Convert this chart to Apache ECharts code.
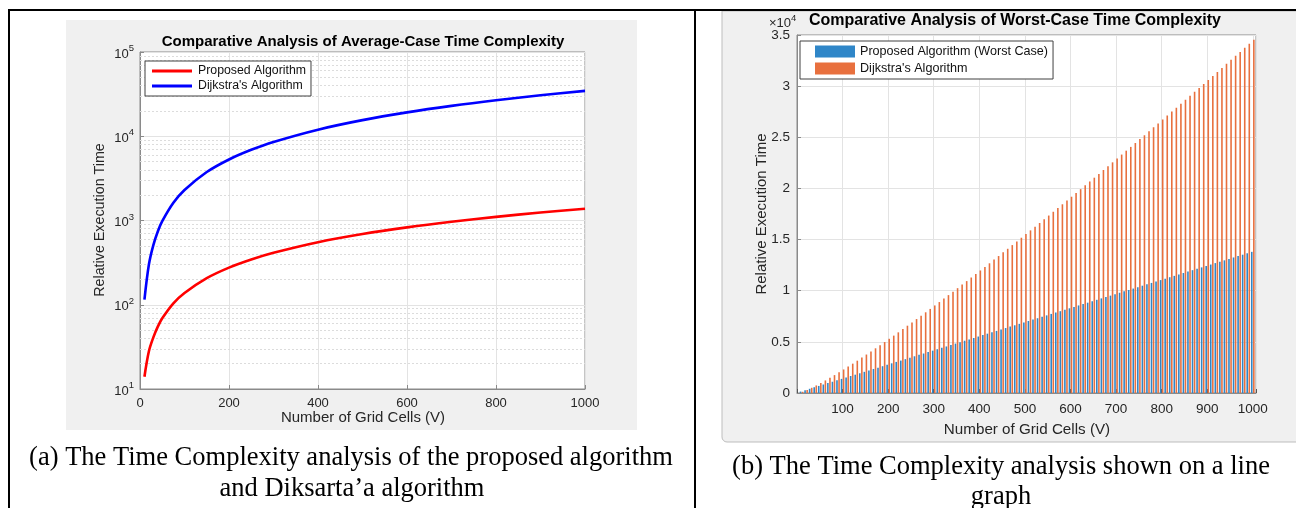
<!DOCTYPE html>
<html>
<head>
<meta charset="utf-8">
<script src="https://cdn.jsdelivr.net/npm/echarts@6/dist/echarts.min.js"></script>
<style>
  html, body { margin: 0; padding: 0; background: #ffffff; }
  #chart { width: 1296px; height: 508px; }
</style>
</head>
<body>
<div id="chart"></div>
<script>
// ---------- Panel (a): average-case curves, log scale ----------
const avgCells    = [10, 20, 30, 40, 50, 75, 100, 150, 200, 250, 300, 400, 500, 600, 700, 800, 900, 1000];
const avgProposed = [14, 28, 41, 55, 69, 104, 138, 207, 276, 345, 414, 553, 691, 829, 967, 1105, 1243, 1380];
const avgDijkstra = [115, 300, 510, 740, 980, 1620, 2300, 3760, 5300, 6900, 8560, 11980, 15540, 19190, 22930, 26740, 30610, 34540];
const logMinorLines = [20, 30, 40, 50, 60, 70, 80, 90,
                       200, 300, 400, 500, 600, 700, 800, 900,
                       2000, 3000, 4000, 5000, 6000, 7000, 8000, 9000,
                       20000, 30000, 40000, 50000, 60000, 70000, 80000, 90000];

// ---------- Panel (b): worst-case grouped bars ----------
const worstCells = [
  10, 20, 30, 40, 50, 60, 70, 80, 90, 100,
  110, 120, 130, 140, 150, 160, 170, 180, 190, 200,
  210, 220, 230, 240, 250, 260, 270, 280, 290, 300,
  310, 320, 330, 340, 350, 360, 370, 380, 390, 400,
  410, 420, 430, 440, 450, 460, 470, 480, 490, 500,
  510, 520, 530, 540, 550, 560, 570, 580, 590, 600,
  610, 620, 630, 640, 650, 660, 670, 680, 690, 700,
  710, 720, 730, 740, 750, 760, 770, 780, 790, 800,
  810, 820, 830, 840, 850, 860, 870, 880, 890, 900,
  910, 920, 930, 940, 950, 960, 970, 980, 990, 1000
];
const worstProposed = [
  140, 280, 410, 550, 690, 830, 970, 1100, 1240, 1380,
  1520, 1660, 1790, 1930, 2070, 2210, 2350, 2480, 2620, 2760,
  2900, 3040, 3170, 3310, 3450, 3590, 3730, 3860, 4000, 4140,
  4280, 4420, 4550, 4690, 4830, 4970, 5110, 5240, 5380, 5520,
  5660, 5800, 5930, 6070, 6210, 6350, 6490, 6620, 6760, 6900,
  7040, 7180, 7310, 7450, 7590, 7730, 7870, 8000, 8140, 8280,
  8420, 8560, 8690, 8830, 8970, 9110, 9250, 9380, 9520, 9660,
  9800, 9940, 10070, 10210, 10350, 10490, 10630, 10760, 10900, 11040,
  11180, 11320, 11450, 11590, 11730, 11870, 12010, 12140, 12280, 12420,
  12560, 12700, 12830, 12970, 13110, 13250, 13390, 13520, 13660, 13800
];
const worstDijkstra = [
  120, 300, 510, 740, 980, 1230, 1490, 1750, 2020, 2300,
  2590, 2870, 3160, 3460, 3760, 4060, 4370, 4670, 4980, 5300,
  5610, 5930, 6250, 6580, 6900, 7230, 7560, 7890, 8220, 8560,
  8890, 9230, 9570, 9910, 10250, 10600, 10940, 11290, 11630, 11980,
  12330, 12680, 13040, 13390, 13750, 14100, 14460, 14820, 15180, 15540,
  15900, 16260, 16620, 16990, 17350, 17720, 18090, 18450, 18820, 19190,
  19560, 19930, 20300, 20680, 21050, 21420, 21800, 22180, 22550, 22930,
  23310, 23690, 24060, 24440, 24830, 25210, 25590, 25970, 26350, 26740,
  27120, 27510, 27890, 28280, 28670, 29050, 29440, 29830, 30220, 30610,
  31000, 31390, 31780, 32180, 32570, 32960, 33350, 33750, 34140, 34540
];

const legendLabels = {
  proposedWorst: 'Proposed Algorithm (Worst Case)',
  dijkstraWorst: "Dijkstra's Algorithm"
};

const SANS = '"Liberation Sans", Arial, Helvetica, sans-serif';
const SERIF = '"Liberation Serif", "Times New Roman", serif';
const AXIS_GREY = '#262626';
const BOX_GREY = '#8a8a8a';
const GRID_GREY = '#e3e3e3';

const chart = echarts.init(document.getElementById('chart'), null, { renderer: 'canvas' });

function pairs(xs, ys) { return xs.map((x, i) => [x, ys[i]]); }

const option = {
  animation: false,
  backgroundColor: '#ffffff',
  textStyle: { fontFamily: SANS },
  grid: [
    { left: 140, top: 52, width: 445, height: 337, show: true,
      backgroundColor: '#ffffff', borderColor: BOX_GREY, borderWidth: 1 },
    { left: 797, top: 35, width: 459, height: 358, show: true,
      backgroundColor: '#ffffff', borderColor: BOX_GREY, borderWidth: 1 }
  ],
  xAxis: [
    { gridIndex: 0, type: 'value', min: 0, max: 1000, interval: 200,
      axisLine: { show: true, onZero: false, lineStyle: { color: BOX_GREY } },
      axisTick: { show: true, inside: true, length: 4, lineStyle: { color: BOX_GREY } },
      axisLabel: { color: AXIS_GREY, fontSize: 13, margin: 8, fontFamily: SANS,
        formatter: v => String(v) },
      splitLine: { show: true, lineStyle: { color: GRID_GREY, width: 1 } } },
    { gridIndex: 1, type: 'value', min: 0, max: 1007, interval: 100,
      axisLine: { show: true, onZero: false, lineStyle: { color: BOX_GREY } },
      axisTick: { show: true, inside: true, length: 4, lineStyle: { color: '#555' } },
      axisLabel: { color: AXIS_GREY, fontSize: 13.5, margin: 9, fontFamily: SANS,
        formatter: v => (v > 0 && v <= 1000 && v % 100 === 0) ? String(v) : '' },
      splitLine: { show: true, lineStyle: { color: GRID_GREY, width: 1 } } }
  ],
  yAxis: [
    { gridIndex: 0, type: 'log', logBase: 10, min: 10, max: 100000,
      axisLine: { show: true, lineStyle: { color: BOX_GREY } },
      axisTick: { show: true, inside: true, length: 4, lineStyle: { color: BOX_GREY } },
      axisLabel: {
        margin: 6,
        formatter: v => '{b|10}{s|' + Math.round(Math.log10(v)) + '}',
        rich: {
          b: { fontSize: 13, color: AXIS_GREY, fontFamily: SANS, lineHeight: 17, verticalAlign: 'bottom' },
          s: { fontSize: 9.5, color: AXIS_GREY, fontFamily: SANS, lineHeight: 10, verticalAlign: 'top' }
        }
      },
      splitLine: { show: true, lineStyle: { color: GRID_GREY, width: 1 } } },
    { gridIndex: 1, type: 'value', min: 0, max: 35000, interval: 5000,
      axisLine: { show: true, lineStyle: { color: BOX_GREY } },
      axisTick: { show: true, inside: true, length: 4, lineStyle: { color: BOX_GREY } },
      axisLabel: { color: AXIS_GREY, fontSize: 13.5, margin: 7, fontFamily: SANS,
        formatter: v => String(v / 10000) },
      splitLine: { show: true, lineStyle: { color: GRID_GREY, width: 1 } } }
  ],
  legend: [
    { orient: 'vertical', left: 145, top: 61,
      data: ['Proposed Algorithm', "Dijkstra's Algorithm"],
      icon: 'rect', itemWidth: 40, itemHeight: 3, itemGap: 3,
      padding: [4, 5, 4, 7],
      backgroundColor: '#ffffff', borderColor: '#404040', borderWidth: 1,
      selectedMode: false,
      textStyle: { fontSize: 12.3, color: '#111', fontFamily: SANS, padding: [0, 0, 0, 1] } },
    { orient: 'vertical', left: 800, top: 41,
      data: ['proposedWorst', 'dijkstraWorst'],
      formatter: name => legendLabels[name] || name,
      icon: 'rect', itemWidth: 40, itemHeight: 12, itemGap: 4,
      padding: [4, 5, 4, 15],
      backgroundColor: '#ffffff', borderColor: '#404040', borderWidth: 1,
      selectedMode: false,
      textStyle: { fontSize: 12.6, color: '#111', fontFamily: SANS, padding: [0, 0, 0, 0] } }
  ],
  series: [
    // dotted minor gridlines of the log axis
    { type: 'line', xAxisIndex: 0, yAxisIndex: 0, data: [], z: 1, silent: true,
      markLine: {
        silent: true, z: 1, symbol: ['none', 'none'], animation: false,
        label: { show: false },
        lineStyle: { color: '#dcdcdc', type: [2, 2], width: 1 },
        data: logMinorLines.map(v => ({ yAxis: v }))
      } },
    { name: 'Proposed Algorithm', type: 'line', xAxisIndex: 0, yAxisIndex: 0,
      data: pairs(avgCells, avgProposed), smooth: 0.35, showSymbol: false, z: 3,
      lineStyle: { color: '#ff0000', width: 2.6 }, itemStyle: { color: '#ff0000' } },
    { name: "Dijkstra's Algorithm", type: 'line', xAxisIndex: 0, yAxisIndex: 0,
      data: pairs(avgCells, avgDijkstra), smooth: 0.35, showSymbol: false, z: 3,
      lineStyle: { color: '#0000ff', width: 2.6 }, itemStyle: { color: '#0000ff' } },
    { name: 'proposedWorst', type: 'bar', xAxisIndex: 1, yAxisIndex: 1,
      data: pairs(worstCells, worstProposed), barWidth: 1.6,
      itemStyle: { color: '#2f86c8' } },
    { name: 'dijkstraWorst', type: 'bar', xAxisIndex: 1, yAxisIndex: 1,
      data: pairs(worstCells, worstDijkstra), barWidth: 1.6, barGap: '30%',
      itemStyle: { color: '#e8703e' } }
  ],
  graphic: [
    // figure backgrounds
    { type: 'rect', z: -10, shape: { x: 66, y: 20, width: 571, height: 410 },
      style: { fill: '#f0f0f0' } },
    { type: 'rect', z: -10, shape: { x: 722, y: 11, width: 580, height: 431, r: [0, 0, 0, 5] },
      style: { fill: '#f0f0f0', stroke: '#bdbdbd', lineWidth: 1 } },

    // table rules
    { type: 'line', z: 50, shape: { x1: 8, y1: 10, x2: 1296, y2: 10 }, style: { stroke: '#000', lineWidth: 2 } },
    { type: 'line', z: 50, shape: { x1: 9, y1: 9, x2: 9, y2: 508 }, style: { stroke: '#000', lineWidth: 2 } },
    { type: 'line', z: 50, shape: { x1: 695, y1: 9, x2: 695, y2: 508 }, style: { stroke: '#000', lineWidth: 2 } },

    // titles
    { type: 'text', z: 60, x: 363, y: 42,
      style: { text: 'Comparative Analysis of Average-Case Time Complexity', fill: '#000',
        font: 'bold 15px ' + SANS, textAlign: 'center', textVerticalAlign: 'middle' } },
    { type: 'text', z: 60, x: 1015, y: 21,
      style: { text: 'Comparative Analysis of Worst-Case Time Complexity', fill: '#000',
        font: 'bold 16px ' + SANS, textAlign: 'center', textVerticalAlign: 'middle' } },

    // exponent marker of the bar chart's value axis
    { type: 'text', z: 55, x: 769, y: 13,
      style: { text: '{m|×10}{e|4}', fill: AXIS_GREY,
        rich: { m: { fontSize: 13, fontFamily: SANS, fill: AXIS_GREY, lineHeight: 17, verticalAlign: 'bottom' },
                e: { fontSize: 9.5, fontFamily: SANS, fill: AXIS_GREY, lineHeight: 10, verticalAlign: 'top' } } } },

    // axis names
    { type: 'text', z: 60, x: 100, y: 220, rotation: Math.PI / 2,
      style: { text: 'Relative Execution Time', fill: AXIS_GREY, font: '14.3px ' + SANS,
        textAlign: 'center', textVerticalAlign: 'middle' } },
    { type: 'text', z: 60, x: 363, y: 418,
      style: { text: 'Number of Grid Cells (V)', fill: AXIS_GREY, font: '15px ' + SANS,
        textAlign: 'center', textVerticalAlign: 'middle' } },
    { type: 'text', z: 60, x: 762, y: 214, rotation: Math.PI / 2,
      style: { text: 'Relative Execution Time', fill: AXIS_GREY, font: '15px ' + SANS,
        textAlign: 'center', textVerticalAlign: 'middle' } },
    { type: 'text', z: 60, x: 1027, y: 430,
      style: { text: 'Number of Grid Cells (V)', fill: AXIS_GREY, font: '15.2px ' + SANS,
        textAlign: 'center', textVerticalAlign: 'middle' } },

    // captions
    { type: 'text', z: 60, x: 351, y: 458,
      style: { text: '(a) The Time Complexity analysis of the proposed algorithm', fill: '#000',
        font: '26.5px ' + SERIF, textAlign: 'center', textVerticalAlign: 'middle' } },
    { type: 'text', z: 60, x: 352, y: 489,
      style: { text: 'and Diksarta\u2019a algorithm', fill: '#000',
        font: '26.5px ' + SERIF, textAlign: 'center', textVerticalAlign: 'middle' } },
    { type: 'text', z: 60, x: 1001, y: 467,
      style: { text: '(b) The Time Complexity analysis shown on a line', fill: '#000',
        font: '26.5px ' + SERIF, textAlign: 'center', textVerticalAlign: 'middle' } },
    { type: 'text', z: 60, x: 1001, y: 497,
      style: { text: 'graph', fill: '#000',
        font: '26.5px ' + SERIF, textAlign: 'center', textVerticalAlign: 'middle' } }
  ]
};

chart.setOption(option);
</script>
</body>
</html>
